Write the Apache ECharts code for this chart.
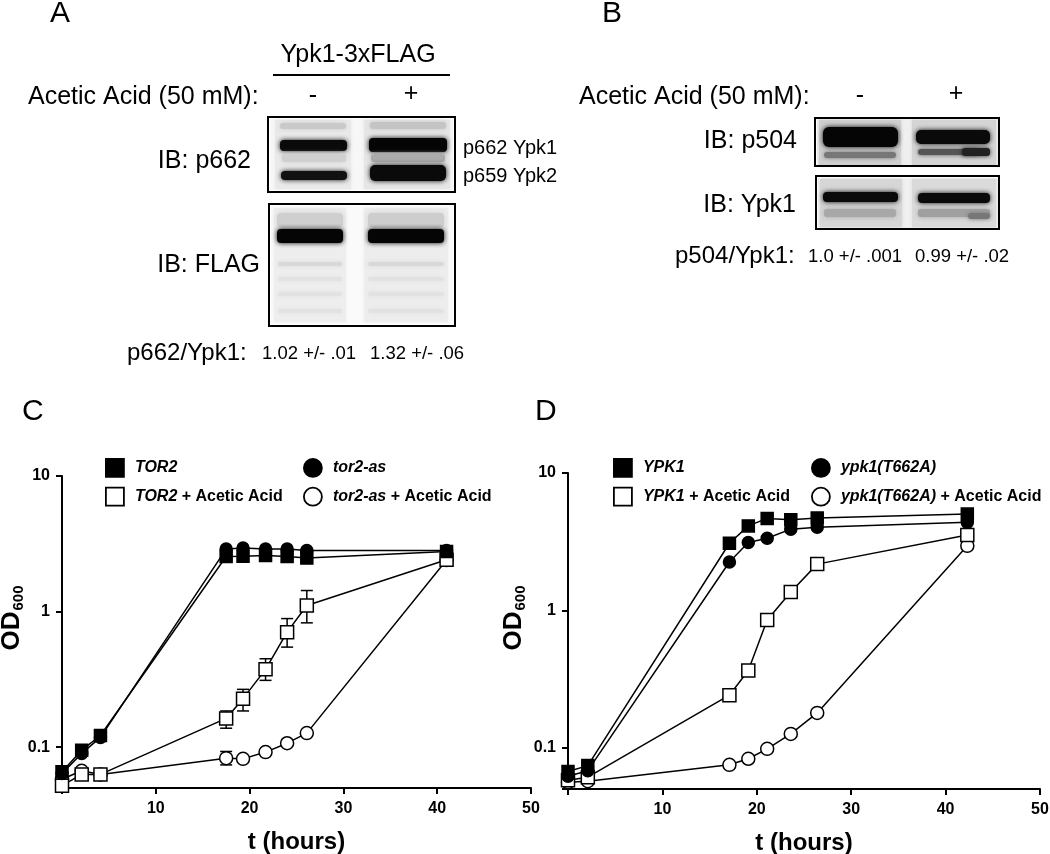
<!DOCTYPE html>
<html><head><meta charset="utf-8">
<script src="https://cdn.jsdelivr.net/npm/echarts@6/dist/echarts.min.js"></script>
<style>html,body{margin:0;padding:0;background:#fff}#c{width:1050px;height:854px}</style>
</head><body><div id="c"></div>
<script>
// ---------- Panel C data ----------
const tC = [0, 2.1, 4.1, 17.5, 19.3, 21.7, 24.0, 26.1, 41.0];
const tor2 = [0.066, 0.095, 0.122, 2.55, 2.56, 2.59, 2.55, 2.48, 2.77];
const tor2as = [0.064, 0.090, 0.118, 2.89, 2.94, 2.89, 2.89, 2.82, 2.82];
const tor2AA = [0.052, 0.063, 0.063, 0.163, 0.228, 0.375, 0.705, 1.11, 2.41];
const tor2AAlow = [null, null, null, 0.138, 0.185, 0.311, 0.547, 0.826, null];
const tor2AAhigh = [null, null, null, 0.185, 0.267, 0.449, 0.888, 1.43, null];
const tor2asAA = [0.058, 0.067, 0.063, 0.083, 0.082, 0.092, 0.107, 0.127, 2.40];
const tor2asAAlow = [null, null, null, 0.074, null, null, null, null, null];
const tor2asAAhigh = [null, null, null, 0.093, null, null, null, null, null];
// ---------- Panel D data ----------
const tD = [0, 2.1, 17.1, 19.1, 21.1, 23.6, 26.4, 42.3];
const ypk1 = [0.067, 0.074, 3.08, 4.12, 4.67, 4.56, 4.70, 5.02];
const ypk1T = [0.062, 0.068, 2.25, 3.12, 3.35, 3.90, 4.02, 4.37];
const ypk1AA = [0.058, 0.061, 0.241, 0.365, 0.85, 1.36, 2.17, 3.53];
const ypk1TAA = [0.056, 0.057, 0.075, 0.083, 0.098, 0.126, 0.179, 2.95];
// ---------- axis ticks ----------
const xTicks = [0, 10, 20, 30, 40, 50];
const yTickLabels = ['0.1', '1', '10'];
// ---------- series names ----------
const namesC = ['TOR2', 'TOR2 + Acetic Acid', 'tor2-as', 'tor2-as + Acetic Acid'];
const namesD = ['YPK1', 'YPK1 + Acetic Acid', 'ypk1(T662A)', 'ypk1(T662A) + Acetic Acid'];
// ---------- blot texts ----------
const blotA = {title: 'Ypk1-3xFLAG', treat: 'Acetic Acid (50 mM):', ib1: 'IB: p662', ib2: 'IB: FLAG',
  side1: 'p662 Ypk1', side2: 'p659 Ypk2', ratio: 'p662/Ypk1:', v1: '1.02 +/- .01', v2: '1.32 +/- .06'};
const blotB = {treat: 'Acetic Acid (50 mM):', ib1: 'IB: p504', ib2: 'IB: Ypk1',
  ratio: 'p504/Ypk1:', v1: '1.0 +/- .001', v2: '0.99 +/- .02'};

const FONT = '"Liberation Sans", Arial, Helvetica, sans-serif';
const chart = echarts.init(document.getElementById('c'), null, {renderer: 'canvas'});

function pairs(t, v) { return t.map((x, i) => [x, v[i]]); }
function errs(t, lo, hi) { const o = []; t.forEach((x, i) => { if (lo[i] != null) o.push([x, lo[i], hi[i]]); }); return o; }

function lineSeries(name, t, v, idx, symbol, filled, size) {
  return {
    type: 'line', name, xAxisIndex: idx, yAxisIndex: idx, data: pairs(t, v),
    symbol, symbolSize: size, showSymbol: true, z: filled ? 4 : 3,
    lineStyle: {color: '#000', width: 1.5},
    itemStyle: {color: filled ? '#000' : '#fff', borderColor: '#000', borderWidth: 1.5},
    emphasis: {disabled: true}, animation: false
  };
}
function errSeries(data, idx) {
  return {
    type: 'custom', xAxisIndex: idx, yAxisIndex: idx, data, z: 2, animation: false,
    encode: {x: 0, y: [1, 2]},
    renderItem(params, api) {
      const x = api.value(0), lo = api.value(1), hi = api.value(2);
      const a = api.coord([x, lo]), b = api.coord([x, hi]); const w = 6;
      const st = {stroke: '#000', lineWidth: 1.5};
      return {type: 'group', children: [
        {type: 'line', shape: {x1: a[0], y1: a[1], x2: b[0], y2: b[1]}, style: st},
        {type: 'line', shape: {x1: a[0] - w, y1: a[1], x2: a[0] + w, y2: a[1]}, style: st},
        {type: 'line', shape: {x1: b[0] - w, y1: b[1], x2: b[0] + w, y2: b[1]}, style: st}
      ]};
    }
  };
}
function legendFmt(name) {
  const k = name.indexOf(' + ');
  if (k < 0) return '{i|' + name + '}';
  return '{i|' + name.slice(0, k) + '}{n|' + name.slice(k) + '}';
}
function legend(left, top, items) {
  return {
    left, top, orient: 'vertical', itemGap: 9, itemWidth: 18, itemHeight: 18, selectedMode: false,
    padding: 0,
    data: items.map(([name, icon, filled]) => ({name, icon,
      itemStyle: {color: filled ? '#000' : '#fff', borderColor: '#000', borderWidth: 1.8}})),
    formatter: legendFmt,
    textStyle: {color: '#000', fontFamily: FONT, fontSize: 16, fontWeight: 'bold',
      rich: {i: {fontStyle: 'italic', fontWeight: 'bold', fontSize: 16, fontFamily: FONT, color: '#000', padding: [0, 0, 0, 6]},
             n: {fontWeight: 'bold', fontSize: 16, fontFamily: FONT, color: '#000'}}}
  };
}
function xAxis(idx) {
  return {
    gridIndex: idx, type: 'value', min: xTicks[0], max: xTicks[xTicks.length - 1], interval: 10,
    name: 't (hours)', nameLocation: 'middle', nameGap: 42,
    nameTextStyle: {fontFamily: FONT, fontSize: 24, fontWeight: 'bold', color: '#000'},
    axisLine: {onZero: false, lineStyle: {color: '#000', width: 2}},
    axisTick: {show: true, length: 6, lineStyle: {color: '#000', width: 2}},
    axisLabel: {margin: 13, fontFamily: FONT, fontSize: 16, fontWeight: 'bold', color: '#000',
      formatter: v => (v === 0 ? '' : String(v))},
    splitLine: {show: false}
  };
}
function yAxis(idx) {
  return {
    gridIndex: idx, type: 'log', logBase: 10, min: 0.05, max: 10,
    axisLine: {onZero: false, lineStyle: {color: '#000', width: 2}},
    axisTick: {show: true, length: 6, lineStyle: {color: '#000', width: 2}},
    minorTick: {show: false},
    axisLabel: {margin: 12, fontFamily: FONT, fontSize: 16, fontWeight: 'bold', color: '#000',
      formatter: v => { for (const s of yTickLabels) { if (Math.abs(v - parseFloat(s)) < 1e-6 * parseFloat(s)) return s; } return ''; }},
    splitLine: {show: false}
  };
}

// ---------- blot drawing helpers ----------
const G = [];
function txt(text, x, y, size, align, extra) {
  G.push(Object.assign({type: 'text', silent: true, x, y, style: Object.assign({text, fontFamily: FONT, fontSize: size,
    fill: '#000', align: align || 'left', verticalAlign: 'middle'}, {})}, extra || {}));
}
function rect(x, y, w, h, fill, blur, r, z) {
  G.push({type: 'rect', silent: true, z: z || 0, shape: {x, y, width: w, height: h, r: r || 0},
    style: {fill, shadowBlur: blur || 0, shadowColor: fill}});
}
function box(x, y, w, h) {
  G.push({type: 'rect', silent: true, z: 10, shape: {x, y, width: w, height: h}, style: {fill: 'none', stroke: '#000', lineWidth: 2}});
}
// Panel letters
txt('A', 50, 14, 30); txt('B', 602, 14, 30); txt('C', 22, 412, 30); txt('D', 535, 412, 30);
// Panel A
txt(blotA.title, 358, 55, 25, 'center');
G.push({type: 'line', silent: true, shape: {x1: 273, y1: 75, x2: 450, y2: 75}, style: {stroke: '#000', lineWidth: 2}});
txt(blotA.treat, 28, 97, 25);
txt('-', 313, 96, 25, 'center'); txt('+', 411, 94, 25, 'center');
txt(blotA.ib1, 251, 161, 25, 'right'); txt(blotA.ib2, 260, 265, 25, 'right');
txt(blotA.side1, 463, 148, 20); txt(blotA.side2, 463, 176, 20);
txt(blotA.ratio, 127, 353, 24); txt(blotA.v1, 262, 354, 18.5); txt(blotA.v2, 370, 354, 18.5);
// A blot 1
rect(270, 119, 183, 71, '#f7f7f7');
rect(275, 120, 76, 69, '#e9e9e9', 3); rect(364, 120, 86, 69, '#e6e6e6', 3);
rect(280, 123, 66, 6, '#c9c9c9', 4, 3); rect(370, 122, 76, 7, '#c4c4c4', 4, 3);
rect(280, 140, 67, 11, '#0a0a0a', 5, 4); rect(369, 138, 78, 14, '#050505', 5, 4);
rect(282, 154, 64, 8, '#d0d0d0', 5, 3); rect(371, 154, 74, 8, '#aaaaaa', 5, 3);
rect(281, 171, 66, 9, '#111111', 5, 4); rect(370, 165, 76, 16, '#0a0a0a', 5, 5);
// A blot 2
rect(271, 206, 182, 118, '#fafafa');
rect(274, 208, 72, 114, '#eeeeee', 3); rect(364, 208, 84, 114, '#ededed', 3);
rect(277, 213, 66, 14, '#cfcfcf', 6, 4); rect(368, 213, 76, 14, '#cdcdcd', 6, 4);
rect(277, 229, 66, 14, '#050505', 5, 4); rect(368, 229, 76, 14, '#050505', 5, 4);
[262, 277, 292, 309].forEach((y, i) => { const c = i === 0 ? '#d9d9d9' : '#e2e2e2';
  rect(278, y, 64, 4, c, 4, 2); rect(368, y, 76, 4, c, 4, 2); });
box(268, 117, 187, 75); box(269, 204, 186, 122);
// Panel B
txt(blotB.treat, 579, 97, 25);
txt('-', 860, 96, 25, 'center'); txt('+', 956, 94, 25, 'center');
txt(blotB.ib1, 797, 141, 25, 'right'); txt(blotB.ib2, 796, 205, 25, 'right');
txt(blotB.ratio, 675, 256, 24); txt(blotB.v1, 808, 257, 18.5); txt(blotB.v2, 915, 257, 18.5);
// B blot 1
rect(817, 119, 181, 47, '#efefef');
rect(819, 120, 82, 45, '#cfcfcf', 3); rect(912, 120, 84, 45, '#d4d4d4', 3);
rect(823, 127, 75, 20, '#050505', 5, 6); rect(916, 130, 74, 14, '#0a0a0a', 5, 5);
rect(824, 152, 72, 6, '#777777', 4, 3); rect(918, 149, 60, 6, '#555555', 4, 3); rect(962, 148, 28, 8, '#222222', 4, 3);
// B blot 2
rect(818, 178, 180, 50, '#f0f0f0');
rect(820, 179, 82, 48, '#d6d6d6', 3); rect(912, 179, 84, 48, '#dadada', 3);
rect(823, 192, 75, 10, '#0a0a0a', 5, 4); rect(918, 193, 72, 10, '#0a0a0a', 5, 4);
rect(824, 209, 72, 8, '#a8a8a8', 5, 3); rect(918, 209, 72, 8, '#a0a0a0', 5, 3); rect(968, 213, 22, 6, '#777', 4, 3);
box(815, 118, 184, 48); box(816, 176, 183, 53);
// OD600 axis titles
function odTitle(x, y) {
  G.push({type: 'text', silent: true, x, y, rotation: Math.PI / 2,
    style: {text: '{a|OD}{s|600}', align: 'center', verticalAlign: 'middle',
      rich: {a: {fontFamily: FONT, fontSize: 26, fontWeight: 'bold', fill: '#000', color: '#000', lineHeight: 28},
             s: {fontFamily: FONT, fontSize: 15, fontWeight: 'bold', fill: '#000', color: '#000', verticalAlign: 'bottom', lineHeight: 28, padding: [0, 0, 0, 1]}}}});
}
odTitle(12, 618); odTitle(514, 618);

const option = {
  backgroundColor: '#fff',
  animation: false,
  textStyle: {fontFamily: FONT},
  grid: [
    {left: 62, top: 476, width: 469, height: 312, outerBoundsMode: 'none', containLabel: false},
    {left: 568, top: 473, width: 472, height: 316, outerBoundsMode: 'none', containLabel: false}
  ],
  xAxis: [xAxis(0), xAxis(1)],
  yAxis: [yAxis(0), yAxis(1)],
  legend: [
    legend(105, 458, [[namesC[0], 'rect', true], [namesC[1], 'rect', false]]),
    legend(303, 458, [[namesC[2], 'circle', true], [namesC[3], 'circle', false]]),
    legend(613, 458, [[namesD[0], 'rect', true], [namesD[1], 'rect', false]]),
    legend(811, 458, [[namesD[2], 'circle', true], [namesD[3], 'circle', false]])
  ],
  graphic: G,
  series: [
    errSeries(errs(tC, tor2AAlow, tor2AAhigh), 0),
    errSeries(errs(tC, tor2asAAlow, tor2asAAhigh), 0),
    lineSeries(namesC[3], tC, tor2asAA, 0, 'circle', false, 13),
    lineSeries(namesC[1], tC, tor2AA, 0, 'rect', false, 13),
    lineSeries(namesC[0], tC, tor2, 0, 'rect', true, 12),
    lineSeries(namesC[2], tC, tor2as, 0, 'circle', true, 12),
    lineSeries(namesD[3], tD, ypk1TAA, 1, 'circle', false, 13),
    lineSeries(namesD[1], tD, ypk1AA, 1, 'rect', false, 13),
    lineSeries(namesD[0], tD, ypk1, 1, 'rect', true, 12),
    lineSeries(namesD[2], tD, ypk1T, 1, 'circle', true, 12)
  ]
};
chart.setOption(option);
</script>
</body></html>
